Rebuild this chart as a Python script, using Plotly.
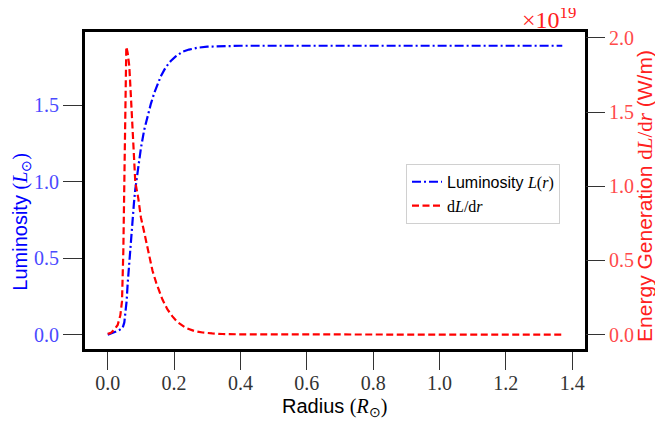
import plotly.graph_objects as go

## Values
# radius in solar radii, luminosity in solar luminosities
r_lum = [0.0, 0.005, 0.015, 0.025, 0.035, 0.045, 0.050, 0.053, 0.057, 0.060, 0.064,
         0.067, 0.071, 0.075, 0.079, 0.083, 0.090, 0.100, 0.110, 0.120, 0.130, 0.140,
         0.150, 0.160, 0.175, 0.190, 0.205, 0.225, 0.245, 0.270, 0.300, 0.340, 0.400,
         0.60, 1.00, 1.37]
lum = [0.0, 0.003, 0.01, 0.02, 0.03, 0.045, 0.08, 0.13, 0.22, 0.33, 0.45,
       0.54, 0.66, 0.76, 0.86, 0.95, 1.07, 1.22, 1.34, 1.43, 1.51, 1.58,
       1.64, 1.69, 1.75, 1.79, 1.82, 1.85, 1.865, 1.877, 1.884, 1.888, 1.89,
       1.89, 1.89, 1.89]

# energy generation dL/dr, in units of 1e19 W/m
r_dl = [0.0, 0.01, 0.02, 0.03, 0.038, 0.043, 0.047, 0.050, 0.052, 0.054, 0.056,
        0.060, 0.065, 0.070, 0.075, 0.083, 0.092, 0.100, 0.108, 0.115, 0.125, 0.135,
        0.146, 0.155, 0.165, 0.180, 0.195, 0.210, 0.236, 0.260, 0.286, 0.315, 0.345,
        0.40, 0.50, 0.70, 1.00, 1.37]
dl_1e19 = [0.005, 0.012, 0.034, 0.065, 0.13, 0.224, 0.56, 1.01, 1.35, 1.75, 1.94,
           1.90, 1.81, 1.60, 1.38, 1.03, 0.92, 0.79, 0.71, 0.64, 0.53, 0.43,
           0.35, 0.29, 0.236, 0.17, 0.123, 0.085, 0.045, 0.025, 0.014, 0.008, 0.004,
           0.002, 0.001, 0.0, 0.0, 0.0]

x_ticks = [0.0, 0.2, 0.4, 0.6, 0.8, 1.0, 1.2, 1.4]
y_ticks = [0.0, 0.5, 1.0, 1.5]
y2_ticks = [0.0, 0.5, 1.0, 1.5, 2.0]

SERIF = "Liberation Serif"
SANS = "Liberation Sans"

fig = go.Figure()
fig.add_trace(go.Scatter(
    x=r_lum, y=lum, mode="lines",
    name='Luminosity <span style="font-family:Liberation Serif"><i>L</i>(<i>r</i>)</span>',
    line=dict(color="#0000ff", width=2.2, dash="9px,3px,2px,3px")))
fig.add_trace(go.Scatter(
    x=r_dl, y=dl_1e19, mode="lines", yaxis="y2",
    name='<span style="font-family:Liberation Serif">d<i>L</i>/d<i>r</i></span>',
    line=dict(color="#ff0000", width=2.2, dash="7px,3.5px")))

# the page body adds 8px around the figure, so the figure is 8px smaller
fig.update_layout(
    width=655, height=417,
    margin=dict(l=77, r=78, t=24, b=76, autoexpand=False),
    paper_bgcolor="white", plot_bgcolor="white",
    font=dict(family=SANS, size=18, color="black"),
    showlegend=True,
    legend=dict(x=0.642, y=0.584, xanchor="left", yanchor="top",
                bgcolor="white", bordercolor="#d0d0d0", borderwidth=1,
                font=dict(family=SANS, size=16), tracegroupgap=2),
    xaxis=dict(range=[-0.0685, 1.4385], tickvals=x_ticks, tickformat=".1f",
               ticks="outside", ticklen=18, tickwidth=1.3, tickcolor="#333",
               ticklabelstandoff=-4,
               showline=True, linewidth=3, linecolor="black", mirror=True,
               showgrid=False, zeroline=False, automargin=False,
               tickfont=dict(family=SERIF, size=20, color="#333")),
    yaxis=dict(range=[-0.094, 1.98], tickvals=y_ticks, tickformat=".1f",
               ticks="outside", ticklen=19, tickwidth=1.3, tickcolor="#333",
               showline=True, linewidth=3, linecolor="black", mirror=True,
               showgrid=False, zeroline=False, automargin=False,
               tickfont=dict(family=SERIF, size=20, color="#4a4aff")),
    yaxis2=dict(range=[-0.097, 2.04], tickvals=y2_ticks, tickformat=".1f",
                overlaying="y", side="right",
                ticks="outside", ticklen=19, tickwidth=1.3, tickcolor="#333",
                showline=False, showgrid=False, zeroline=False, automargin=False,
                tickfont=dict(family=SERIF, size=20, color="#ff4a4a")),
)

# axis titles and offset text
fig.add_annotation(
    text='Radius <span style="font-family:Liberation Serif">(<i>R</i><sub>⊙</sub>)</span>',
    xref="paper", yref="paper", x=0.498, y=-0.186, xanchor="center", yanchor="middle",
    showarrow=False, font=dict(family=SANS, size=20, color="black"))
fig.add_annotation(
    text='Luminosity <span style="font-family:Liberation Serif">(<i>L</i><sub>⊙</sub>)</span>',
    xref="paper", yref="paper", x=-0.127, y=0.40, xanchor="center", yanchor="middle",
    textangle=-90, showarrow=False, font=dict(family=SANS, size=20, color="#0000ff"))
fig.add_annotation(
    text='Energy Generation <span style="font-family:Liberation Serif">d<i>L</i>/d<i>r</i></span> (W/m)',
    xref="paper", yref="paper", x=1.12, y=0.483, xanchor="center", yanchor="middle",
    textangle=-90, showarrow=False, font=dict(family=SANS, size=21, color="#ff2020"))
fig.add_annotation(
    text="×10<sup>19</sup>",
    xref="paper", yref="paper", x=0.986, y=1.0, xanchor="right", yanchor="bottom",
    yshift=-3, showarrow=False, font=dict(family=SERIF, size=24, color="#ff2020"))

fig.write_html("out.html")
